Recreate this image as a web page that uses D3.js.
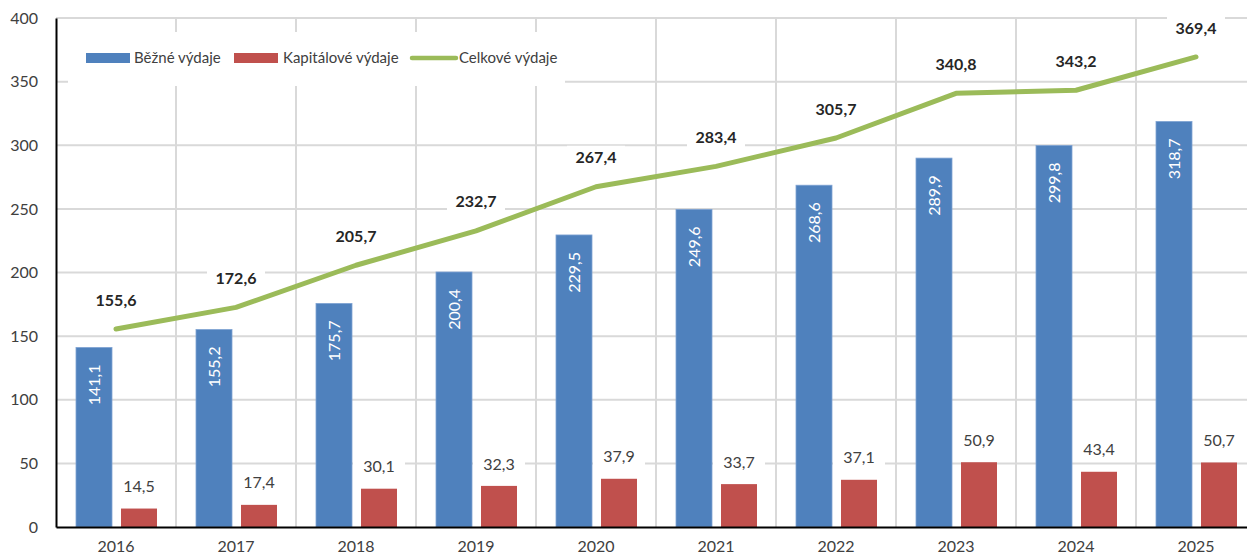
<!DOCTYPE html>
<html>
<head>
<meta charset="utf-8">
<script src="https://cdn.jsdelivr.net/npm/d3@7"></script>
<style>
  body { margin: 0; background: #fff; }
  svg { display: block; font-family: Lato, "Open Sans", sans-serif; }
</style>
</head>
<body>
<svg id="chart" width="1247" height="558"></svg>
<script>
// values
const years = ["2016", "2017", "2018", "2019", "2020", "2021", "2022", "2023", "2024", "2025"]
const bezne = [141.1, 155.2, 175.7, 200.4, 229.5, 249.6, 268.6, 289.9, 299.8, 318.7]
const kapitalove = [14.5, 17.4, 30.1, 32.3, 37.9, 33.7, 37.1, 50.9, 43.4, 50.7]
const celkove = [155.6, 172.6, 205.7, 232.7, 267.4, 283.4, 305.7, 340.8, 343.2, 369.4]
const yTicks = [0, 50, 100, 150, 200, 250, 300, 350, 400]
const legendNames = ["Běžné výdaje", "Kapitálové výdaje", "Celkové výdaje"]

const colBlue = "#4f81bd"
const colRed = "#c0504d"
const colGreen = "#9bbb59"
const txt = "#404040"

const svg = d3.select("#chart")
const plotLeft = 56, plotRight = 1256, plotTop = 18, plotBottom = 527

let x = d3.scaleBand().domain(years).range([plotLeft, plotRight])
let xs = d3.scaleBand().domain(["b", "k"]).range([20, 101]).paddingInner(0.2)
let y = d3.scaleLinear().domain([0, 400]).range([plotBottom, plotTop])
let fmt = (v) => v.toFixed(1).replace(".", ",")

// grid
let grid = svg.append("g")
grid.selectAll("line.h")
    .data(yTicks.filter((d) => d > 0))
    .enter()
    .append("line")
    .attr("x1", plotLeft).attr("x2", plotRight)
    .attr("y1", (d) => y(d)).attr("y2", (d) => y(d))
    .attr("stroke", "#d9d9d9").attr("stroke-width", 2)
grid.selectAll("line.v")
    .data(years)
    .enter()
    .append("line")
    .attr("x1", (d) => x(d) + x.bandwidth()).attr("x2", (d) => x(d) + x.bandwidth())
    .attr("y1", plotTop).attr("y2", plotBottom)
    .attr("stroke", "#d9d9d9").attr("stroke-width", 2)

// legend box
let legend = svg.append("g")
legend.append("rect").attr("x", 68).attr("y", 32).attr("width", 497).attr("height", 54).attr("fill", "#fff")
legend.append("rect").attr("x", 86).attr("y", 53).attr("width", 44).attr("height", 10).attr("fill", colBlue)
legend.append("rect").attr("x", 234).attr("y", 53).attr("width", 44).attr("height", 10).attr("fill", colRed)
legend.append("line").attr("x1", 412).attr("x2", 456).attr("y1", 58).attr("y2", 58)
    .attr("stroke", colGreen).attr("stroke-width", 4.5).attr("stroke-linecap", "round")
legend.selectAll("text")
    .data(legendNames)
    .enter()
    .append("text")
    .attr("x", (d, i) => [134, 283, 459][i])
    .attr("y", 58)
    .attr("dy", "0.35em")
    .attr("font-size", 15)
    .attr("fill", txt)
    .text((d) => d)

// bars
svg.append("g")
    .selectAll("rect")
    .data(bezne)
    .enter()
    .append("rect")
    .attr("x", (d, i) => x(years[i]) + xs("b"))
    .attr("y", (d) => y(d))
    .attr("width", xs.bandwidth())
    .attr("height", (d) => plotBottom - y(d))
    .attr("fill", colBlue)
    .attr("stroke", "#7fa3d3").attr("stroke-width", 0.8)

svg.append("g")
    .selectAll("rect")
    .data(kapitalove)
    .enter()
    .append("rect")
    .attr("x", (d, i) => x(years[i]) + xs("k"))
    .attr("y", (d) => y(d))
    .attr("width", xs.bandwidth())
    .attr("height", (d) => plotBottom - y(d))
    .attr("fill", colRed)

// total line
let line = d3.line()
    .x((d, i) => x(years[i]) + x.bandwidth() / 2)
    .y((d) => y(d))
svg.append("path")
    .datum(celkove)
    .attr("d", line)
    .attr("fill", "none")
    .attr("stroke", colGreen)
    .attr("stroke-width", 5)
    .attr("stroke-linejoin", "round")
    .attr("stroke-linecap", "round")

// labels of blue bars, rotated inside
svg.append("g")
    .selectAll("text")
    .data(bezne)
    .enter()
    .append("text")
    .attr("transform", (d, i) => "translate(" + (x(years[i]) + xs("b") + xs.bandwidth() / 2) + "," + (y(d) + 17) + ") rotate(-90)")
    .attr("text-anchor", "end")
    .attr("dy", "0.35em")
    .attr("font-size", 16)
    .attr("fill", "#fff")
    .text((d) => fmt(d))

// labels of red bars
let kl = svg.append("g")
    .selectAll("g")
    .data(kapitalove)
    .enter()
    .append("g")
    .attr("transform", (d, i) => "translate(" + (x(years[i]) + xs("k") + xs.bandwidth() / 2) + "," + (y(d) - 22) + ")")
kl.append("rect").attr("x", -26).attr("y", -12).attr("width", 52).attr("height", 24).attr("fill", "#fff")
kl.append("text")
    .attr("text-anchor", "middle")
    .attr("dy", "0.35em")
    .attr("font-size", 16)
    .attr("fill", txt)
    .text((d) => fmt(d))

// labels of total line
let cl = svg.append("g")
    .selectAll("g")
    .data(celkove)
    .enter()
    .append("g")
    .attr("transform", (d, i) => "translate(" + (x(years[i]) + x.bandwidth() / 2) + "," + (y(d) - 29) + ")")
cl.append("rect").attr("x", -29).attr("y", -12).attr("width", 58).attr("height", 24).attr("fill", "#fff")
cl.append("text")
    .attr("text-anchor", "middle")
    .attr("dy", "0.35em")
    .attr("font-size", 16)
    .attr("font-weight", "bold")
    .attr("fill", "#262626")
    .text((d) => fmt(d))

// axes
let yAxis = svg.append("g")
    .attr("transform", "translate(" + plotLeft + ",0)")
    .call(d3.axisLeft(y).tickValues(yTicks).tickSize(0).tickPadding(18))
yAxis.select(".domain").attr("stroke", "#000").attr("stroke-width", 2)
yAxis.selectAll("text").attr("font-size", 16).attr("fill", txt).attr("font-family", "Lato, sans-serif")

let xAxis = svg.append("g")
    .attr("transform", "translate(0," + plotBottom + ")")
    .call(d3.axisBottom(x).tickSize(0).tickPadding(14))
xAxis.select(".domain").attr("stroke", "#000").attr("stroke-width", 2)
xAxis.selectAll("text").attr("font-size", 16).attr("fill", txt).attr("font-family", "Lato, sans-serif")
</script>
</body>
</html>
